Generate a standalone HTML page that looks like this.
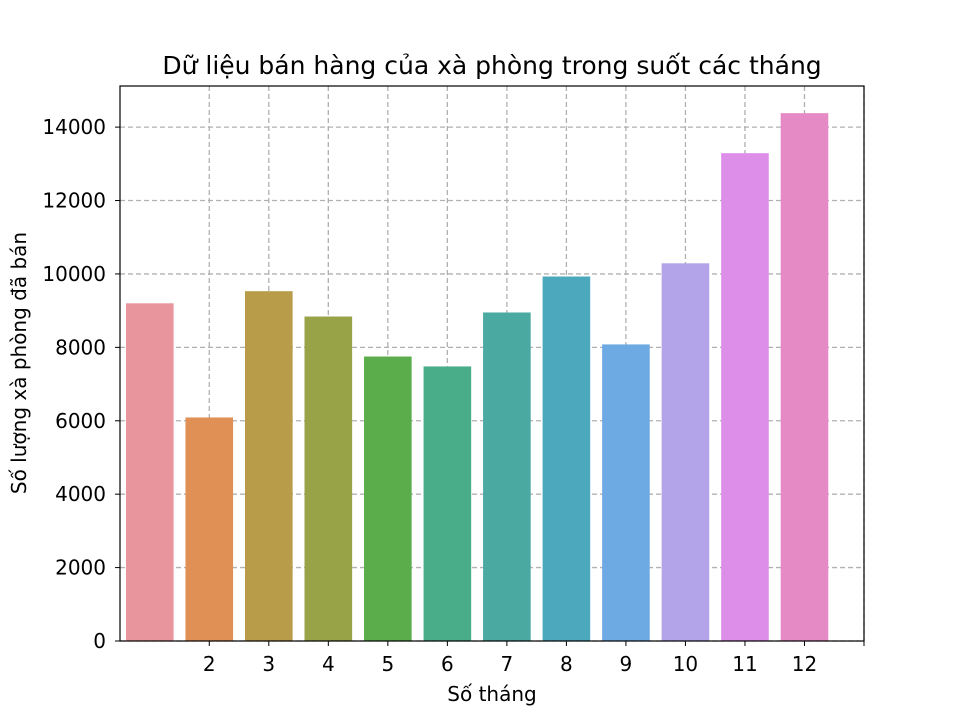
<!DOCTYPE html>
<html><head><meta charset="utf-8"><style>
body{margin:0;background:#fff;}
svg text{font-family:"DejaVu Sans","Liberation Sans",sans-serif;fill:#000;}
</style></head><body>
<svg id="chart" width="960" height="720" xmlns="http://www.w3.org/2000/svg">
<rect width="960" height="720" fill="#fff"/>
<g id="grid"></g>
<g id="bars"></g>
<g id="axes"></g>
<text x="492" y="74" font-size="25" text-anchor="middle">Dữ liệu bán hàng của xà phòng trong suốt các tháng</text>
<text x="492" y="701" font-size="20" text-anchor="middle">Số tháng</text>
<text transform="translate(26,363) rotate(-90)" font-size="20" text-anchor="middle">Số lượng xà phòng đã bán</text>
</svg>
<script>
const categories = ["1","2","3","4","5","6","7","8","9","10","11","12"];
const values = [9200, 6090, 9530, 8840, 7750, 7480, 8950, 9930, 8080, 10290, 13290, 14380];
const colors = ["#e8959e","#e08f55","#b89c4a","#98a247","#5bad4b","#4aad8a","#4aa9a1","#4ba8bd","#6daae3","#b3a3e8","#dd8ee8","#e68ac5"];
const yTicks = [0,2000,4000,6000,8000,10000,12000,14000];
const xTickLabels = ["","2","3","4","5","6","7","8","9","10","11","12",""];

const L=120,R=864,T=86,B=641;
const yMax=15120;
const y = v => B - v/yMax*(B-T);
const step=(R-L)/12.5;
const x = i => L + (i+0.5)*step;
const ns="http://www.w3.org/2000/svg";
function mk(tag,attrs,parent){const e=document.createElementNS(ns,tag);for(const k in attrs)e.setAttribute(k,attrs[k]);parent.appendChild(e);return e;}
const grid=document.getElementById('grid'),bars=document.getElementById('bars'),axes=document.getElementById('axes');

yTicks.forEach(t=>{
  const gl=mk('line',{x1:L,x2:R,y1:y(t),y2:y(t),stroke:'#b0b0b0','stroke-width':1.3,'stroke-dasharray':'5,3'},grid);
  
  
  const tk=mk('line',{x1:L-5,x2:L,y1:y(t),y2:y(t),stroke:'#000','stroke-width':1},axes);
  
  
  const tx=mk('text',{x:L-14,y:y(t)+7,'font-size':20,'text-anchor':'end'},axes);
  tx.textContent=t;
  
  
});
xTickLabels.forEach((lab,i)=>{
  if(i===0)return;
  const xi=x(i);
  const gl=mk('line',{x1:xi,x2:xi,y1:T,y2:B,stroke:'#b0b0b0','stroke-width':1.3,'stroke-dasharray':'5,3'},grid);
  
  
  const tk=mk('line',{x1:xi,x2:xi,y1:B,y2:B+5,stroke:'#000','stroke-width':1},axes);
  
  
  if(lab){
    const tx=mk('text',{x:xi,y:B+30,'font-size':20,'text-anchor':'middle'},axes);
    tx.textContent=lab;
    
    
  }
});
categories.forEach((c,i)=>{
  const w=step*0.8;
  const r=mk('rect',{x:x(i)-w/2,y:y(values[i]),width:w,height:B-y(values[i]),fill:colors[i%colors.length]},bars);
  
  
});
const fr=mk('rect',{x:L,y:T,width:R-L,height:B-T,fill:'none',stroke:'#000','stroke-width':1.2},axes);


</script>
</body></html>
